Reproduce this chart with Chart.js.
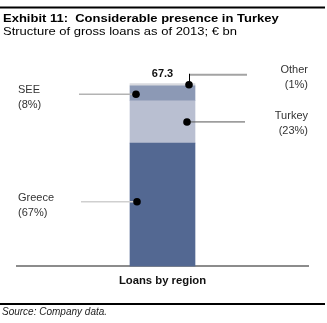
<!DOCTYPE html>
<html>
<head>
<meta charset="utf-8">
<script src="https://cdn.jsdelivr.net/npm/chart.js@4.4.1/dist/chart.umd.min.js"></script>
<style>
  html, body { margin: 0; padding: 0; background: #fff; }
  #wrap { width: 327px; height: 323px; position: relative; }
</style>
</head>
<body>
<div id="wrap"><canvas id="loans"></canvas></div>
<script>
// gross loans 2013, EUR bn
var categories = ["Loans by region"]
var regions = ["Greece", "Turkey", "SEE", "Other"]
var loans = [45.4, 15.6, 5.5, 0.8]
var colors = ["#536892", "#b9bfd1", "#8c99b5", "#d9dadf"]
var total = 67.3

var FONT = "'Liberation Sans', Arial, sans-serif"

function pct(v) {
  return "(" + Math.round(v / total * 100) + "%)"
}

// callouts: side of the text, dot offset inside the bar, leader colour/width
var callouts = [
  { i: 0, side: "left", dx: 7, dy: -3, line: "#cfcfcf", lw: 1.5, end: 81 },
  { i: 1, side: "right", dx: -8, dy: 0, line: "#555", lw: 1, end: 245 },
  { i: 2, side: "left", dx: 6, dy: 1, line: "#b3b3b3", lw: 1.5, end: 79 },
  { i: 3, side: "right", dx: -6, dy: 0, line: "#a3a3a3", lw: 2, end: 247, elbow: true }
]

// text drawn a touch wider than the stock face
function wideText(ctx, s, x, y, k) {
  ctx.save()
  ctx.translate(x, y)
  ctx.scale(k, 1)
  ctx.fillText(s, 0, 0)
  ctx.restore()
}

var decor = {
  id: "decor",
  beforeDraw(chart) {
    var ctx = chart.ctx
    ctx.save()
    ctx.fillStyle = "#000"
    ctx.fillRect(0, 6.5, 325, 2)
    ctx.textBaseline = "alphabetic"
    ctx.textAlign = "left"
    ctx.font = "bold 11.5px " + FONT
    wideText(ctx, "Exhibit 11:  Considerable presence in Turkey", 3, 21.5, 1.13)
    ctx.font = "11.5px " + FONT
    wideText(ctx, "Structure of gross loans as of 2013; \u20ac bn", 3, 35, 1.13)
    ctx.fillRect(0, 303, 325, 2)
    ctx.font = "italic 10px " + FONT
    ctx.fillStyle = "#222"
    ctx.fillText("Source: Company data.", 2, 315)
    ctx.restore()
  },
  afterDatasetsDraw(chart) {
    var ctx = chart.ctx
    var y = chart.scales.y
    var bar = chart.getDatasetMeta(0).data[0]
    var left = bar.x - bar.width / 2
    var right = bar.x + bar.width / 2
    ctx.save()

    // total on top of the stack
    ctx.font = "bold 11px " + FONT
    ctx.fillStyle = "#111"
    ctx.textAlign = "center"
    ctx.fillText(total.toFixed(1), bar.x, y.getPixelForValue(total) - 7)

    var base = 0
    var mids = []
    loans.forEach(function (v) {
      mids.push(base + v / 2)
      base += v
    })

    callouts.forEach(function (c) {
      var v = loans[c.i]
      var py = y.getPixelForValue(mids[c.i]) + c.dy
      var px = c.side === "left" ? left + c.dx : right + c.dx
      if (c.elbow) py = y.getPixelForValue(base - v) - 1
      var ly = c.elbow ? py - 10 : py

      ctx.strokeStyle = c.line
      ctx.lineWidth = c.lw
      ctx.beginPath()
      if (c.side === "left") {
        ctx.moveTo(c.end, ly)
        ctx.lineTo(px, ly)
      } else {
        ctx.moveTo(px, ly)
        ctx.lineTo(c.end, ly)
      }
      ctx.stroke()
      if (c.elbow) {
        ctx.strokeStyle = "#000"
        ctx.lineWidth = 1
        ctx.beginPath()
        ctx.moveTo(px + 0.5, py)
        ctx.lineTo(px + 0.5, ly - 1)
        ctx.stroke()
      }

      ctx.fillStyle = "#000"
      ctx.beginPath()
      ctx.arc(px, py, 3.8, 0, Math.PI * 2)
      ctx.fill()

      ctx.font = "11px " + FONT
      ctx.fillStyle = "#333"
      var tx, ty
      if (c.side === "left") {
        ctx.textAlign = "left"
        tx = 18
        ty = py - 1
      } else {
        ctx.textAlign = "right"
        tx = 308
        ty = c.elbow ? py - 12 : py - 3
      }
      ctx.fillText(regions[c.i], tx, ty)
      ctx.fillText(pct(v), tx, ty + 15)
    })
    ctx.restore()
  }
}

new Chart(document.getElementById("loans"), {
  type: "bar",
  data: {
    labels: categories,
    datasets: regions.map(function (r, i) {
      return {
        label: r,
        data: [loans[i]],
        backgroundColor: colors[i],
        borderWidth: 0,
        barThickness: 65
      }
    })
  },
  options: {
    responsive: true,
    maintainAspectRatio: false,
    animation: false,
    events: [],
    layout: { padding: { left: 17, right: 19, top: 60, bottom: 27 } },
    plugins: {
      legend: { display: false },
      tooltip: { enabled: false },
      title: { display: false }
    },
    scales: {
      x: {
        stacked: true,
        grid: { display: false, drawTicks: false },
        border: { color: "#8c8c8c", width: 2 },
        ticks: {
          color: "#111",
          padding: 8,
          font: { family: FONT, size: 11.3, weight: "bold" }
        }
      },
      y: {
        stacked: true,
        display: false,
        min: 0,
        max: 76
      }
    }
  },
  plugins: [decor]
})
</script>
</body>
</html>
